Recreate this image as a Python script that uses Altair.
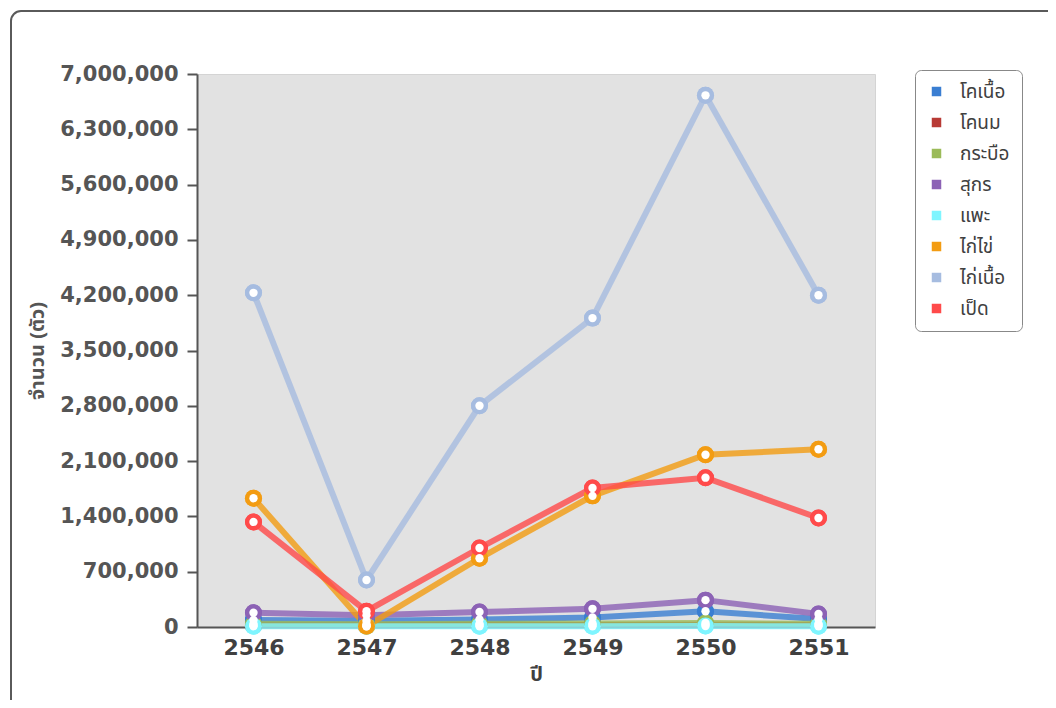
import altair as alt
import pandas as pd

years = ["2546", "2547", "2548", "2549", "2550", "2551"]
series = ["โคเนื้อ", "โคนม", "กระบือ", "สุกร", "แพะ", "ไก่ไข่", "ไก่เนื้อ", "เป็ด"]
colors = ["#3a7ed2", "#b83a35", "#9bbb59", "#8c62b5", "#7ff5ff", "#f39c12", "#a6bce0", "#ff4a4a"]

v_beef = [90000, 80000, 95000, 120000, 200000, 100000]
v_dairy = [20000, 20000, 25000, 25000, 30000, 25000]
v_buffalo = [40000, 35000, 40000, 45000, 50000, 40000]
v_pig = [180000, 150000, 190000, 230000, 340000, 165000]
v_goat = [10000, 10000, 10000, 10000, 12000, 10000]
v_layer = [1630000, 10000, 870000, 1660000, 2180000, 2250000]
v_broiler = [4230000, 595000, 2800000, 3910000, 6730000, 4200000]
v_duck = [1330000, 200000, 1000000, 1760000, 1890000, 1380000]

values = [v_beef, v_dairy, v_buffalo, v_pig, v_goat, v_layer, v_broiler, v_duck]
y_ticks = [0, 700000, 1400000, 2100000, 2800000, 3500000, 4200000, 4900000, 5600000, 6300000, 7000000]

rows = []
for i, (s, vals) in enumerate(zip(series, values)):
    for y, v in zip(years, vals):
        rows.append({"ปี": y, "ชนิด": s, "จำนวน": v, "order": i})
df = pd.DataFrame(rows)

thai_font = "Tahoma, 'Noto Sans Thai', Loma, Garuda, 'DejaVu Sans', sans-serif"
num_font = "'DejaVu Sans', Verdana, sans-serif"

x = alt.X("ปี:O", title="ปี",
          axis=alt.Axis(labelAngle=0, labelFont=num_font, labelFontSize=22, labelFontWeight="bold",
                        labelColor="#404040", ticks=False, domainColor="#555555", domainWidth=2,
                        titleFont=thai_font, titleFontSize=20, titleFontWeight="bold",
                        titleColor="#404040", titlePadding=6, labelPadding=10))
y = alt.Y("จำนวน:Q", title="จำนวน (ตัว)",
          scale=alt.Scale(domain=[0, 7000000], nice=False),
          axis=alt.Axis(values=y_ticks, format=",.0f", grid=False, labelFont=num_font,
                        labelFontSize=21, labelFontWeight="bold", labelColor="#555555",
                        tickColor="#555555", tickSize=10, tickWidth=2, domainColor="#555555",
                        domainWidth=2, labelPadding=9, titleFont=thai_font, titleFontSize=20,
                        titleFontWeight="bold", titleColor="#555555", titlePadding=12))
legend = alt.Legend(title=None, orient="none", legendX=718, legendY=-4,
                    symbolType="square", symbolSize=90, symbolStrokeWidth=0,
                    labelFont=thai_font, labelFontSize=19, labelColor="#404040",
                    rowPadding=11, padding=12, strokeColor="#888888",
                    cornerRadius=6, fillColor="white", labelLimit=200, labelOffset=14)
color = alt.Color("ชนิด:N", sort=series, scale=alt.Scale(domain=series, range=colors),
                  legend=legend)
color_nolegend = alt.Color("ชนิด:N", sort=series, scale=alt.Scale(domain=series, range=colors),
                           legend=None)

base = alt.Chart(df).encode(x=x, y=y, order=alt.Order("order:Q"))

dots_legend = base.mark_point(shape="circle", filled=True, size=290, opacity=1).encode(color=color)
lines = base.mark_line(strokeWidth=6, opacity=0.8).encode(color=color_nolegend)
dots = base.mark_point(shape="circle", filled=True, size=290, opacity=1).encode(color=color_nolegend)
holes = base.mark_point(shape="circle", filled=True, size=70, opacity=1, color="white")

frame = alt.Chart(pd.DataFrame({"a": [0]})).mark_rect(
    fill="transparent", stroke="#5a5a5a", strokeWidth=2, cornerRadius=10
).encode(x=alt.value(-186), x2=alt.value(920), y=alt.value(-63), y2=alt.value(700))

chart = alt.layer(frame, dots_legend, lines, dots, holes).properties(
    width=678, height=553,
    autosize=alt.AutoSizeParams(type="none"),
    padding={"left": 189, "top": 66, "right": 173, "bottom": 73},
    background="white",
).configure_view(fill="#e2e2e2", stroke="#d4d4d4")

chart.save("out.html", embed_options={"renderer": "svg", "actions": False})
